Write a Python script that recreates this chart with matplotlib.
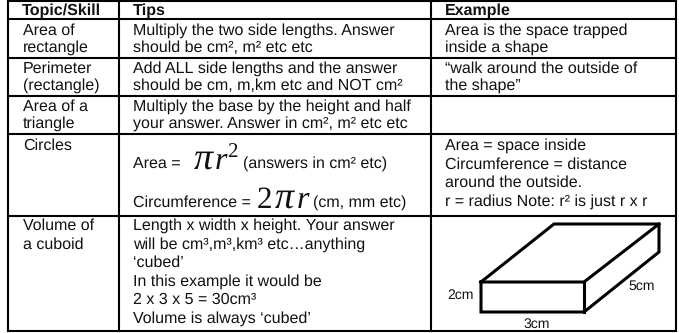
import matplotlib
matplotlib.use("Agg")
import matplotlib.pyplot as plt

W, H = 679, 333
col_x = [8, 119, 431, 676]
row_y = [1, 19, 58, 96, 134, 216, 331]

headers = ["Topic/Skill", "Tips", "Example"]
topics = [["Area of", "rectangle"], ["Perimeter", "(rectangle)"], ["Area of a", "triangle"],
          ["Circles"], ["Volume of", "a cuboid"]]
tips = [["Multiply the two side lengths. Answer", "should be cm², m² etc etc"],
        ["Add ALL side lengths and the answer", "should be cm, m,km etc and NOT cm²"],
        ["Multiply the base by the height and half", "your answer. Answer in cm², m² etc etc"],
        [],
        ["Length x width x height. Your answer", "will be cm³,m³,km³ etc…anything", "‘cubed’",
         "In this example it would be", "2 x 3 x 5 = 30cm³", "Volume is always ‘cubed’"]]
examples = [["Area is the space trapped", "inside a shape"],
            ["“walk around the outside of", "the shape”"],
            [],
            ["Area = space inside", "Circumference = distance", "around the outside.",
             "r = radius Note: r² is just r x r"],
            []]
first_baselines = [35, 73, 111, 150, 230]
line_steps = [16.6, 16.6, 16.6, 18.6, 18.5]

cuboid_outline = [(481, 282), (554, 224), (659, 224), (659, 252), (584, 312), (481, 312), (481, 282)]
cuboid_edges = [[(481, 282), (584, 282), (659, 224)], [(584, 282), (584, 312)]]
cuboid_labels = [("2cm", 447, 299), ("3cm", 523, 328), ("5cm", 628, 290)]

plt.rcParams["font.family"] = ["Liberation Sans", "DejaVu Sans"]
plt.rcParams["text.hinting"] = "no_hinting"
plt.rcParams["text.hinting_factor"] = 1
fig = plt.figure(figsize=(W / 100, H / 100), dpi=100)
ax = fig.add_axes([0, 0, 1, 1])
ax.set_xlim(0, W)
ax.set_ylim(H, 0)
ax.axis("off")

FS = 11.5
INK = "#111111"
for x in col_x:
    ax.plot([x, x], [row_y[0], row_y[-1]], color="black", lw=1.5, solid_capstyle="projecting")
for y in row_y:
    ax.plot([col_x[0], col_x[-1]], [y, y], color="black", lw=1.5, solid_capstyle="projecting")

for x, t in zip(col_x, headers):
    ax.text(x + 14, 15, t, fontsize=FS, fontweight="bold", va="baseline", color=INK)

for i, lines in enumerate(topics):
    for k, t in enumerate(lines):
        ax.text(23, first_baselines[i] + k * line_steps[i], t, fontsize=FS, va="baseline", color=INK)
for i, lines in enumerate(tips):
    for k, t in enumerate(lines):
        ax.text(133, first_baselines[i] + k * line_steps[i], t, fontsize=FS, va="baseline", color=INK)
for i, lines in enumerate(examples):
    for k, t in enumerate(lines):
        ax.text(445, first_baselines[i] + k * line_steps[i], t, fontsize=FS, va="baseline", color=INK)

serif = dict(family="Liberation Serif", va="baseline", color=INK)
ax.text(133, 168, "Area =", fontsize=FS, va="baseline", color=INK)
ax.text(203.5, 169, "π", fontsize=27, style="italic", ha="center", **serif)
ax.text(215, 169, "r", fontsize=23, style="italic", **serif)
ax.text(227.5, 157, "2", fontsize=15, **serif)
ax.text(243, 168, "(answers in cm² etc)", fontsize=FS, va="baseline", color=INK)
ax.text(133, 207, "Circumference =", fontsize=FS, va="baseline", color=INK)
ax.text(257, 208, "2", fontsize=22, **serif)
ax.text(284.5, 208, "π", fontsize=27, style="italic", ha="center", **serif)
ax.text(297, 208, "r", fontsize=23, style="italic", **serif)
ax.text(313, 207, "(cm, mm etc)", fontsize=FS, va="baseline", color=INK)

xs, ys = zip(*cuboid_outline)
ax.plot(xs, ys, color="black", lw=2.2, solid_joinstyle="miter")
for edge in cuboid_edges:
    xs, ys = zip(*edge)
    ax.plot(xs, ys, color="black", lw=2.2)
for t, x, y in cuboid_labels:
    ax.text(x, y, t, fontsize=10, ha="left", va="baseline", color=INK)

fig.savefig("out.png", dpi=100)
